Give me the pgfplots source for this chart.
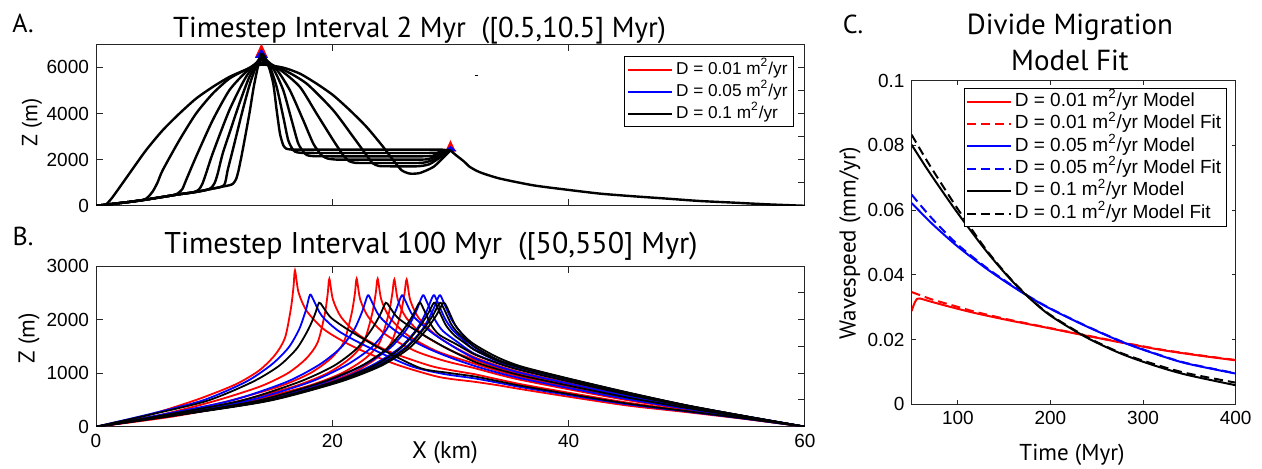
\documentclass[border=0pt]{standalone}
\usepackage{fontspec}
\setmainfont{Liberation Sans}
\newfontfamily\myr{PT Sans}
\usepackage{pgfplots}
\pgfplotsset{compat=1.18}
\definecolor{mred}{rgb}{1,0,0}
\definecolor{mblue}{rgb}{0,0,1}
\definecolor{axgray}{gray}{0.15}
\pgfplotsset{
  mat/.style={scale only axis, anchor=south west,
    axis line style={axgray, line width=0.5pt},
    every tick/.style={axgray, line width=0.5pt},
    tick align=inside, major tick length=3.5pt,
    tick label style={font=\fontsize{9.5}{11}\selectfont, text=black},
    legend cell align=left,
    legend image code/.code={\draw[#1] (0pt,0pt) -- (22pt,0pt);},
  },
  ov/.style={mat, xtick=\empty, yticklabels={}, ytick pos=right, axis line style={draw=none}},
  A/.style={black, line width=1.2pt, smooth, tension=0.4, forget plot},
  Rs/.style={mred, line width=0.9pt, smooth, tension=0.45, forget plot},
  Bs/.style={mblue, line width=0.9pt, smooth, tension=0.45, forget plot},
  Ks/.style={black, line width=0.9pt, smooth, tension=0.45, forget plot},
}
\begin{document}
\begin{tikzpicture}
\useasboundingbox (0,0) rectangle (631pt,234pt);

% ---------------- Panel A ----------------
\begin{axis}[mat, at={(48pt,131.1pt)}, width=354.5pt, height=80.75pt,
  xmin=0, xmax=60, ymin=0, ymax=7000,
  xtick={0,20,40,60}, xticklabels={},
  ytick={0,2000,4000,6000}, yticklabels={0,2000,4000,6000}, ytick pos=left,
  legend style={at={(0.9845,0.926)}, anchor=north east, draw=black, line width=0.5pt,
    font=\fontsize{8.6}{9}\selectfont, inner xsep=1.5pt, inner ysep=1pt, row sep=0pt,
    nodes={text height=6.8pt, text depth=2.2pt, inner ysep=1pt, inner xsep=1.5pt}}]
\addlegendimage{mred, line width=1pt}\addlegendentry{D = 0.01 m\textsuperscript{2}/yr}
\addlegendimage{mblue, line width=1pt}\addlegendentry{D = 0.05 m\textsuperscript{2}/yr}
\addlegendimage{black, line width=1pt}\addlegendentry{D = 0.1 m\textsuperscript{2}/yr}
% red and blue peaks
\addplot[mred, fill=mred, line width=0.8pt, forget plot] coordinates {(13.55,6450) (14.0,6950) (14.45,6450)} -- cycle;
\addplot[mred, fill=mred, line width=0.8pt, forget plot] coordinates {(29.65,2380) (30.0,2767) (30.35,2380)} -- cycle;
\addplot[mblue, fill=mblue, line width=0.8pt, forget plot] coordinates {(13.6,6450) (14.0,6740) (14.4,6450)} -- cycle;
\addplot[mblue, fill=mblue, line width=0.8pt, forget plot] coordinates {(29.65,2400) (30.0,2550) (30.35,2400)} -- cycle;
% black profiles
\addplot[A] coordinates {(0,0) (0.5,12) (0.85,60) (1.41,380) (2.82,1395) (4.23,2406) (5.64,3272) (7.05,3994) (8.46,4644) (9.87,5150) (11.28,5583) (12.69,5900) (14.0,6120) (15.85,5987) (17.26,5727) (18.67,5294) (20.08,4788) (21.49,4139) (22.9,3417) (24.31,2550) (25.16,1973) (25.87,1539) (26.57,1395) (27.42,1424) (28.55,1684) (29.39,2088) (30,2400)};
\addplot[A] coordinates {(0,0) (0.85,50) (2.82,168) (4.0,250) (4.4,380) (4.8,620) (5.2,1000) (5.64,1539) (7.05,2839) (8.46,3994) (9.87,4860) (11.28,5510) (12.69,5900) (14.0,6200) (15.85,5900) (17.83,5294) (20.08,4139) (21.77,2983) (22.9,2189) (23.4,1850) (23.9,1730) (24.5,1714) (27.2,1713) (28.2,1800) (28.97,2045) (30,2400)};
\addplot[A] coordinates {(0,0) (0.85,50) (2.82,168) (4.23,269) (5.64,384) (6.5,460) (6.9,530) (7.3,720) (7.62,1106) (8.46,2117) (9.87,3706) (11.28,5005) (12.69,5799) (14.0,6300) (15.57,5900) (17.26,5149) (18.67,3994) (20.08,2839) (20.93,2189) (21.4,1940) (21.9,1865) (22.6,1857) (27.3,1857) (28.2,1930) (28.97,2088) (30,2400)};
\addplot[A] coordinates {(0,0) (0.85,50) (2.82,168) (4.23,269) (5.64,384) (7.05,500) (8.2,580) (8.7,700) (9.0,950) (9.31,1395) (9.87,2261) (11.28,4138) (12.69,5583) (14.0,6380) (15.29,5900) (16.41,5005) (17.54,3706) (18.39,2695) (19.1,2189) (19.6,2050) (20.2,2008) (21,2002) (27.5,2002) (28.4,2070) (29.1,2200) (30,2400)};
\addplot[A] coordinates {(0,0) (0.85,50) (2.82,168) (4.23,269) (5.64,384) (7.05,500) (8.46,601) (9.3,680) (9.75,780) (10.05,1000) (10.3,1395) (10.72,2261) (11.28,3128) (12.13,4427) (12.98,5583) (14.0,6450) (15.0,5944) (15.85,5005) (16.56,3706) (17.12,2695) (17.68,2261) (18.0,2175) (18.5,2150) (19.2,2146) (27.8,2146) (28.6,2190) (29.3,2280) (30,2400)};
\addplot[A] coordinates {(0,0) (0.85,50) (2.82,168) (4.23,269) (5.64,384) (7.05,500) (8.46,601) (9.87,745) (10.45,800) (10.85,900) (11.0,1150) (11.14,1539) (11.57,2406) (12.41,4138) (13.12,5438) (14.0,6520) (14.72,6016) (15.29,5149) (15.85,3850) (16.27,2839) (16.7,2406) (17.0,2320) (17.4,2298) (18.2,2291) (28.0,2290) (29.0,2320) (30,2400)};
\addplot[A] coordinates {(0,0) (0.85,50) (2.82,168) (4.23,269) (5.64,384) (7.05,500) (8.46,601) (9.87,745) (11.28,890) (11.6,960) (11.85,1150) (12.05,1500) (12.41,2406) (12.98,3994) (13.4,5294) (14.0,6580) (14.58,6088) (15.0,5294) (15.29,4139) (15.57,3128) (15.85,2622) (16.1,2480) (16.5,2440) (17.5,2436) (28.5,2435) (29.3,2430) (30,2400)};
% common tail beyond the ridge
\addplot[A] coordinates {(30,2400) (30.5,2180) (31.1,1940) (31.6,1700) (32.2,1520) (32.8,1395) (34.2,1178) (37.0,888) (39.8,701) (42.65,528) (45.5,412) (48.3,312) (51.1,208) (53.9,139) (56.75,65) (60,0)};
\addplot[black, line width=0.5pt, forget plot] coordinates {(32.05,5654) (32.35,5654)};
\end{axis}
\begin{axis}[ov, at={(48pt,131.1pt)}, width=354.5pt, height=80.75pt,
  xmin=0, xmax=60, ymin=0, ymax=7000, ytick={1000,2000,3000,4000,5000,6000}]
\addplot[draw=none] coordinates {(0,0)};
\end{axis}

% ---------------- Panel B ----------------
\begin{axis}[mat, at={(48pt,20.65pt)}, width=354.5pt, height=80.3pt,
  xmin=0, xmax=60, ymin=0, ymax=3000,
  xtick={0,20,40,60}, xticklabels={0,20,40,60},
  ytick={0,1000,2000,3000}, yticklabels={0,1000,2000,3000}, ytick pos=left]
% red D=0.01
\addplot[Rs] coordinates {(0,0) (4.21,204) (8.42,496) (11.79,788) (13.81,1051) (15.16,1343) (16.0,1664) (16.5,2218) (16.72,2627) (16.84,2919) (17.14,2510) (17.84,2160) (19.34,1810) (21.84,1489) (25.34,1168) (29,930) (32,840) (34,775) (36,700) (40,560) (45,395) (50,272) (55,142) (60,0)};
\addplot[Rs] coordinates {(0,0) (4.94,193) (9.88,470) (13.83,746) (16.2,995) (17.78,1271) (18.76,1575) (19.36,2101) (19.61,2488) (19.75,2764) (20.05,2377) (20.75,2045) (22.25,1714) (24.75,1410) (28.25,1140) (30.2,1050) (32,982) (34,886) (36,792) (40,635) (45,449) (50,300) (55,154) (60,0)};
\addplot[Rs] coordinates {(0,0) (5.52,193) (11.03,470) (15.44,746) (18.09,995) (19.85,1271) (20.96,1575) (21.62,2101) (21.91,2488) (22.06,2764) (22.36,2377) (23.06,2045) (24.56,1714) (27.06,1410) (29.5,1230) (32,1096) (34,977) (36,872) (40,699) (45,495) (50,324) (55,164) (60,0)};
\addplot[Rs] coordinates {(0,0) (5.96,193) (11.92,470) (16.69,746) (19.55,995) (21.46,1271) (22.65,1575) (23.36,2101) (23.67,2488) (23.84,2764) (24.14,2377) (24.84,2045) (26.34,1714) (28.84,1410) (32,1180) (34,1044) (36,931) (40,747) (45,530) (50,342) (55,171) (60,0)};
\addplot[Rs] coordinates {(0,0) (6.31,193) (12.63,468) (17.68,743) (20.71,990) (22.73,1265) (23.99,1568) (24.75,2091) (25.07,2476) (25.25,2751) (25.55,2366) (26.25,2036) (27.75,1706) (30.25,1403) (32,1252) (34,1102) (36,981) (40,788) (45,559) (50,358) (55,178) (60,0)};
\addplot[Rs] coordinates {(0,0) (6.57,193) (13.15,468) (18.4,743) (21.56,990) (23.66,1265) (24.98,1568) (25.76,2091) (26.1,2476) (26.29,2751) (26.59,2366) (27.29,2036) (28.79,1706) (30.4,1480) (32,1300) (34,1140) (36,1015) (40,815) (45,579) (50,368) (55,182) (60,0)};
% blue D=0.05
\addplot[Bs] coordinates {(0,0) (4.53,234) (9.06,493) (12.68,838) (14.85,1159) (16.3,1479) (17.2,1824) (17.75,2169) (18.11,2465) (18.41,2366) (19.11,2071) (20.61,1775) (23.11,1479) (26.61,1134) (29.3,990) (32,904) (34,823) (36,738) (40,591) (45,417) (50,284) (55,147) (60,0)};
\addplot[Bs] coordinates {(0,0) (5.75,233) (11.5,491) (16.1,834) (18.86,1153) (20.7,1472) (21.85,1815) (22.54,2159) (23.0,2453) (23.3,2355) (24.0,2061) (25.5,1766) (28.0,1472) (30,1290) (32,1138) (34,1010) (36,902) (40,723) (45,513) (50,333) (55,167) (60,0)};
\addplot[Bs] coordinates {(0,0) (6.47,233) (12.94,491) (18.11,834) (21.21,1153) (23.28,1472) (24.58,1815) (25.35,2159) (25.87,2453) (26.17,2355) (26.87,2061) (28.37,1766) (30.2,1500) (32,1282) (34,1126) (36,1002) (40,805) (45,571) (50,364) (55,180) (60,0)};
\addplot[Bs] coordinates {(0,0) (6.91,233) (13.83,491) (19.36,834) (22.67,1153) (24.89,1472) (26.27,1815) (27.1,2159) (27.65,2453) (27.95,2355) (28.65,2012) (29.35,1790) (30.6,1580) (32,1366) (34,1193) (36,1061) (40,852) (45,606) (50,382) (55,188) (60,0)};
\addplot[Bs] coordinates {(0,0) (7.14,233) (14.28,491) (19.99,834) (23.41,1153) (25.7,1472) (27.12,1815) (27.98,2159) (28.55,2453) (28.85,2355) (29.55,2012) (30.25,1790) (31.1,1620) (32,1440) (34,1226) (36,1091) (40,876) (45,623) (50,391) (55,191) (60,0)};
\addplot[Bs] coordinates {(0,0) (7.27,233) (14.53,491) (20.34,834) (23.83,1153) (26.15,1472) (27.61,1815) (28.48,2159) (29.06,2453) (29.36,2355) (30.06,2012) (30.76,1790) (32,1490) (34,1246) (36,1107) (40,890) (45,633) (50,396) (55,193) (60,0)};
% black D=0.1
\addplot[Ks] coordinates {(0,0) (4.72,232) (9.44,486) (13.22,834) (15.48,1135) (16.99,1459) (17.94,1806) (18.5,2084) (18.88,2316) (19.18,2247) (19.88,2038) (21.38,1806) (23.88,1482) (27.38,1100) (29.7,1010) (32,940) (34,852) (36,763) (40,611) (45,432) (50,291) (55,150) (60,0)};
\addplot[Ks] coordinates {(0,0) (6.13,232) (12.26,486) (17.16,834) (20.11,1135) (22.07,1459) (23.29,1806) (24.03,2084) (24.52,2316) (24.82,2247) (25.52,2038) (27.02,1806) (29.52,1482) (32,1216) (34,1073) (36,956) (40,767) (45,544) (50,350) (55,174) (60,0)};
\addplot[Ks] coordinates {(0,0) (6.84,232) (13.69,486) (19.16,834) (22.44,1135) (24.63,1459) (26.0,1806) (26.82,2084) (27.37,2316) (27.67,2223) (28.37,1900) (29.07,1714) (30.5,1540) (32,1354) (34,1183) (36,1053) (40,846) (45,601) (50,380) (55,187) (60,0)};
\addplot[Ks] coordinates {(0,0) (7.15,232) (14.3,486) (20.02,834) (23.45,1135) (25.74,1459) (27.17,1806) (28.03,2084) (28.6,2316) (28.9,2223) (29.6,1900) (30.3,1714) (31.1,1580) (32,1440) (34,1231) (36,1095) (40,880) (45,625) (50,392) (55,192) (60,0)};
\addplot[Ks] coordinates {(0,0) (7.28,232) (14.55,486) (20.37,834) (23.86,1135) (26.19,1459) (27.65,1806) (28.52,2084) (29.1,2316) (29.4,2223) (30.1,1900) (30.8,1714) (32,1500) (34,1250) (36,1112) (40,893) (45,635) (50,397) (55,194) (60,0)};
\addplot[Ks] coordinates {(0,0) (7.35,232) (14.7,486) (20.58,834) (24.11,1135) (26.46,1459) (27.93,1806) (28.81,2084) (29.4,2316) (29.7,2230) (30.4,1900) (31.1,1708) (32,1540) (33.9,1304) (36,1125) (40,900) (45,640) (50,400) (55,195) (60,0)};
\end{axis}
\begin{axis}[ov, at={(48pt,20.65pt)}, width=354.5pt, height=80.3pt,
  xmin=0, xmax=60, ymin=0, ymax=3000, ytick={500,1000,1500,2000,2500}]
\addplot[draw=none] coordinates {(0,0)};
\end{axis}

% ---------------- Panel C ----------------
\begin{axis}[mat, at={(455.8pt,31.85pt)}, width=162pt, height=161.8pt,
  xmin=50, xmax=400, ymin=0, ymax=0.1, major tick length=2pt,
  xtick={100,200,300,400}, xticklabels={100,200,300,400},
  ytick={0,0.02,0.04,0.06,0.08,0.1}, yticklabels={0,0.02,0.04,0.06,0.08,0.1},
  legend style={at={(0.972,0.978)}, anchor=north east, draw=black, line width=0.5pt,
    font=\fontsize{9.5}{10}\selectfont, inner xsep=1.2pt, inner ysep=1pt, row sep=0pt,
    nodes={text height=7pt, text depth=2.2pt, inner ysep=1pt, inner xsep=1.2pt}}]
\addlegendimage{mred, line width=1pt}\addlegendentry{D = 0.01 m\textsuperscript{2}/yr Model}
\addlegendimage{mred, line width=1pt, dash pattern=on 4.5pt off 2.5pt}\addlegendentry{D = 0.01 m\textsuperscript{2}/yr Model Fit}
\addlegendimage{mblue, line width=1pt}\addlegendentry{D = 0.05 m\textsuperscript{2}/yr Model}
\addlegendimage{mblue, line width=1pt, dash pattern=on 4.5pt off 2.5pt}\addlegendentry{D = 0.05 m\textsuperscript{2}/yr Model Fit}
\addlegendimage{black, line width=1pt}\addlegendentry{D = 0.1 m\textsuperscript{2}/yr Model}
\addlegendimage{black, line width=1pt, dash pattern=on 4.5pt off 2.5pt}\addlegendentry{D = 0.1 m\textsuperscript{2}/yr Model Fit}
\addplot[mred, line width=1pt, smooth, forget plot] coordinates {(50,0.0288) (53,0.0312) (56,0.0326) (59,0.0327) (70,0.0318) (84,0.0307) (100,0.0295) (120,0.0281) (156,0.0259) (192,0.0239) (230,0.0217) (278,0.0190) (320,0.0168) (360,0.0151) (400,0.0136)};
\addplot[mred, line width=1pt, smooth, dash pattern=on 4.5pt off 2.5pt, forget plot] coordinates {(50,0.0347) (70,0.0326) (84,0.0314) (100,0.0301) (120,0.0285) (156,0.0261) (192,0.0240) (230,0.0218) (278,0.0191) (320,0.0169) (360,0.0152) (400,0.0137)};
\addplot[mblue, line width=1pt, smooth, forget plot] coordinates {(50,0.0622) (65,0.0578) (77,0.0545) (100,0.0487) (130,0.0421) (155,0.0372) (177,0.0332) (200,0.0295) (238,0.0242) (278,0.0192) (310,0.0159) (346,0.0127) (400,0.0095)};
\addplot[mblue, line width=1pt, smooth, dash pattern=on 4.5pt off 2.5pt, forget plot] coordinates {(50,0.0648) (65,0.0597) (77,0.0559) (100,0.0493) (130,0.0424) (155,0.0374) (177,0.0333) (200,0.0296) (238,0.0243) (278,0.0193) (310,0.016) (346,0.0128) (400,0.0096)};
\addplot[black, line width=1pt, smooth, forget plot] coordinates {(50,0.0802) (65,0.0735) (77,0.0684) (100,0.0590) (130,0.0476) (155,0.0392) (177,0.0329) (200,0.0274) (238,0.0208) (275,0.0158) (310,0.0122) (346,0.0092) (400,0.0059)};
\addplot[black, line width=1pt, smooth, dash pattern=on 4.5pt off 2.5pt, forget plot] coordinates {(50,0.0833) (65,0.0760) (77,0.0705) (100,0.0603) (130,0.0480) (155,0.0394) (177,0.0330) (200,0.0276) (238,0.0210) (275,0.0160) (310,0.0126) (346,0.0097) (400,0.0067)};
\end{axis}

% ---------------- text ----------------
\node[font=\myr\fontsize{14.4}{16}\selectfont, anchor=base] at (209.75pt,215.5pt) {Timestep Interval 2 Myr\ \ ([0.5,10.5] Myr)};
\node[font=\myr\fontsize{15}{16}\selectfont, anchor=base] at (215.5pt,107.5pt) {Timestep Interval 100 Myr\ \ ([50,550] Myr)};
\node[font=\myr\fontsize{14.5}{16}\selectfont, anchor=base] at (535pt,217pt) {Divide Migration};
\node[font=\myr\fontsize{14.5}{16}\selectfont, anchor=base] at (535pt,199pt) {Model Fit};
\node[font=\myr\fontsize{13}{14}\selectfont] at (11.5pt,222.5pt) {A.};
\node[font=\myr\fontsize{13}{14}\selectfont] at (11.5pt,116pt) {B.};
\node[font=\myr\fontsize{13}{14}\selectfont] at (426.5pt,222pt) {C.};
\node[font=\myr\fontsize{11}{12}\selectfont, rotate=90] at (16pt,173pt) {Z (m)};
\node[font=\myr\fontsize{11.5}{12}\selectfont, rotate=90] at (14.5pt,65pt) {Z (m)};
\node[font=\myr\fontsize{12}{13}\selectfont] at (222.5pt,7.5pt) {X (km)};
\node[font=\myr\fontsize{11.5}{12}\selectfont, rotate=90] at (425pt,112.5pt) {Wavespeed (mm/yr)};
\node[font=\myr\fontsize{11.5}{12}\selectfont] at (536pt,6.5pt) {Time (Myr)};
\end{tikzpicture}
\end{document}
